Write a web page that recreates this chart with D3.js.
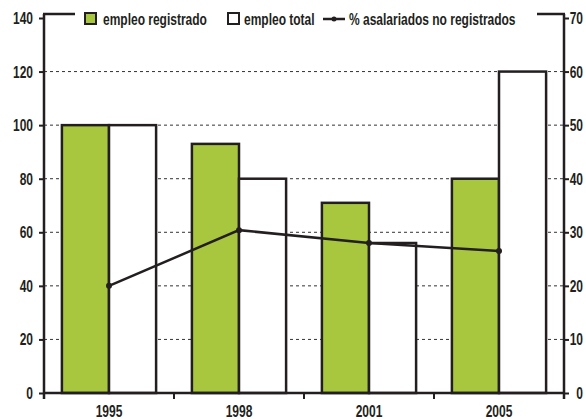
<meta charset="utf-8">
<html lang="es">
<head>
    <meta charset="utf-8">
    <style>
        body { margin: 0; background: #fff; }
        text { font-family: "Liberation Sans", Arial, sans-serif; font-weight: bold; font-size: 16px; fill: #231f20; }
    </style>
</head>
<body>
    <div id="my_dataviz"></div>
    <script src="https://d3js.org/d3.v7.min.js"></script>
    <script>
        // data
        var years = ["1995", "1998", "2001", "2005"];
        var empleoRegistrado = [100, 93, 71, 80];
        var empleoTotal = [100, 80, 56, 120];
        var asalariadosNoReg = [20, 30.4, 28, 26.5];
        var leftTicks = [0, 20, 40, 60, 80, 100, 120, 140];
        var rightTicks = [0, 10, 20, 30, 40, 50, 60, 70];
        var gridTicks = [20, 40, 60, 80, 100, 120];

        var green = "#a8c63e", ink = "#231f20";
        var squeeze = 0.75; // condensed look

        var margin = { top: 18, right: 22, bottom: 26, left: 44 },
            width = 586 - margin.left - margin.right,
            height = 419 - margin.top - margin.bottom;

        var svg = d3.select("#my_dataviz")
            .append("svg")
            .attr("width", 586)
            .attr("height", 419)
            .append("g")
            .attr("transform", "translate(" + margin.left + "," + margin.top + ")");

        // narrow text helper
        function label(parent, x, y, str, anchor) {
            return parent.append("text")
                .attr("transform", "translate(" + x + "," + y + ") scale(" + squeeze + ",1)")
                .attr("text-anchor", anchor || "start")
                .text(str);
        }

        var x = d3.scaleBand().domain(years).range([0, width]);
        var sub = d3.scaleBand().domain(["reg", "tot"]).range([0, x.bandwidth()]).paddingOuter(0.38);
        var y = d3.scaleLinear().domain([0, 140]).range([height, 0]);
        var y2 = d3.scaleLinear().domain([0, 70]).range([height, 0]);

        // dashed grid
        svg.selectAll("grid")
            .data(gridTicks)
            .enter()
            .append("line")
            .attr("x1", 0).attr("x2", width)
            .attr("y1", function (d) { return y(d) })
            .attr("y2", function (d) { return y(d) })
            .attr("stroke", "#333")
            .attr("stroke-width", 1)
            .attr("stroke-dasharray", "3,3");

        // bars
        var rows = years.map(function (yr, i) {
            return { year: yr, reg: empleoRegistrado[i], tot: empleoTotal[i], pct: asalariadosNoReg[i] };
        });
        var groups = svg.selectAll("grp")
            .data(rows)
            .enter()
            .append("g")
            .attr("transform", function (d) { return "translate(" + x(d.year) + ",0)" });
        groups.append("rect")
            .attr("x", sub("reg"))
            .attr("width", sub.bandwidth())
            .attr("y", function (d) { return y(d.reg) })
            .attr("height", function (d) { return height - y(d.reg) })
            .attr("fill", green)
            .attr("stroke", ink)
            .attr("stroke-width", 2.5);
        groups.append("rect")
            .attr("x", sub("tot"))
            .attr("width", sub.bandwidth())
            .attr("y", function (d) { return y(d.tot) })
            .attr("height", function (d) { return height - y(d.tot) })
            .attr("fill", "#fff")
            .attr("stroke", ink)
            .attr("stroke-width", 2.5);

        // line on right axis
        var line = d3.line()
            .x(function (d) { return x(d.year) + x.bandwidth() / 2 })
            .y(function (d) { return y2(d.pct) });
        svg.append("path")
            .attr("d", line(rows))
            .attr("fill", "none")
            .attr("stroke", ink)
            .attr("stroke-width", 2.5);
        svg.selectAll("dots")
            .data(rows)
            .enter()
            .append("circle")
            .attr("cx", function (d) { return x(d.year) + x.bandwidth() / 2 })
            .attr("cy", function (d) { return y2(d.pct) })
            .attr("r", 3)
            .attr("fill", ink);

        // axes: tick lines from d3, labels drawn narrow
        function styleAxis(g) {
            g.select(".domain").remove();
            g.selectAll(".tick line").attr("stroke", ink).attr("stroke-width", 2);
            g.selectAll(".tick text").remove();
        }
        svg.append("g")
            .call(d3.axisLeft(y).tickValues(leftTicks).tickSize(5))
            .call(styleAxis);
        svg.append("g")
            .attr("transform", "translate(" + width + ",0)")
            .call(d3.axisRight(y2).tickValues(rightTicks).tickSize(5))
            .call(styleAxis);
        var labels = svg.append("g");
        leftTicks.forEach(function (t) { label(labels, -11, y(t) + 6, t, "end") });
        rightTicks.forEach(function (t) { label(labels, width + 19, y2(t) + 6, t, "end") });
        years.forEach(function (yr) { label(labels, x(yr) + x.bandwidth() / 2, height + 23.5, yr, "middle") });

        // year boundary ticks
        svg.selectAll("bticks")
            .data(years.concat(["end"]))
            .enter()
            .append("line")
            .attr("x1", function (d) { return d === "end" ? width : x(d) })
            .attr("x2", function (d) { return d === "end" ? width : x(d) })
            .attr("y1", height).attr("y2", height + 6)
            .attr("stroke", ink).attr("stroke-width", 2);

        // frame lines
        var frame = svg.append("g").attr("stroke", ink).attr("stroke-width", 2.5).attr("fill", "none");
        frame.append("line").attr("x1", 0).attr("x2", 0).attr("y1", -4).attr("y2", height + 6);
        frame.append("line").attr("x1", width).attr("x2", width).attr("y1", -4).attr("y2", height + 6);
        frame.append("line").attr("x1", 0).attr("x2", width).attr("y1", height).attr("y2", height);
        frame.append("line").attr("x1", -1).attr("x2", 31).attr("y1", -4).attr("y2", -4);
        frame.append("line").attr("x1", width - 27).attr("x2", width + 1).attr("y1", -4).attr("y2", -4);

        // legend
        var legend = svg.append("g");
        legend.append("rect").attr("x", 41).attr("y", -5).attr("width", 11).attr("height", 11)
            .attr("fill", green).attr("stroke", ink).attr("stroke-width", 2);
        label(legend, 59, 7, "empleo registrado");
        legend.append("rect").attr("x", 184).attr("y", -5).attr("width", 11).attr("height", 11)
            .attr("fill", "#fff").attr("stroke", ink).attr("stroke-width", 2);
        label(legend, 200, 7, "empleo total");
        legend.append("line").attr("x1", 279).attr("x2", 301).attr("y1", 1).attr("y2", 1)
            .attr("stroke", ink).attr("stroke-width", 2.5);
        legend.append("circle").attr("cx", 290).attr("cy", 1).attr("r", 2.5).attr("fill", ink);
        label(legend, 305, 7, "% asalariados no registrados");
    </script>
</body>
</html>
